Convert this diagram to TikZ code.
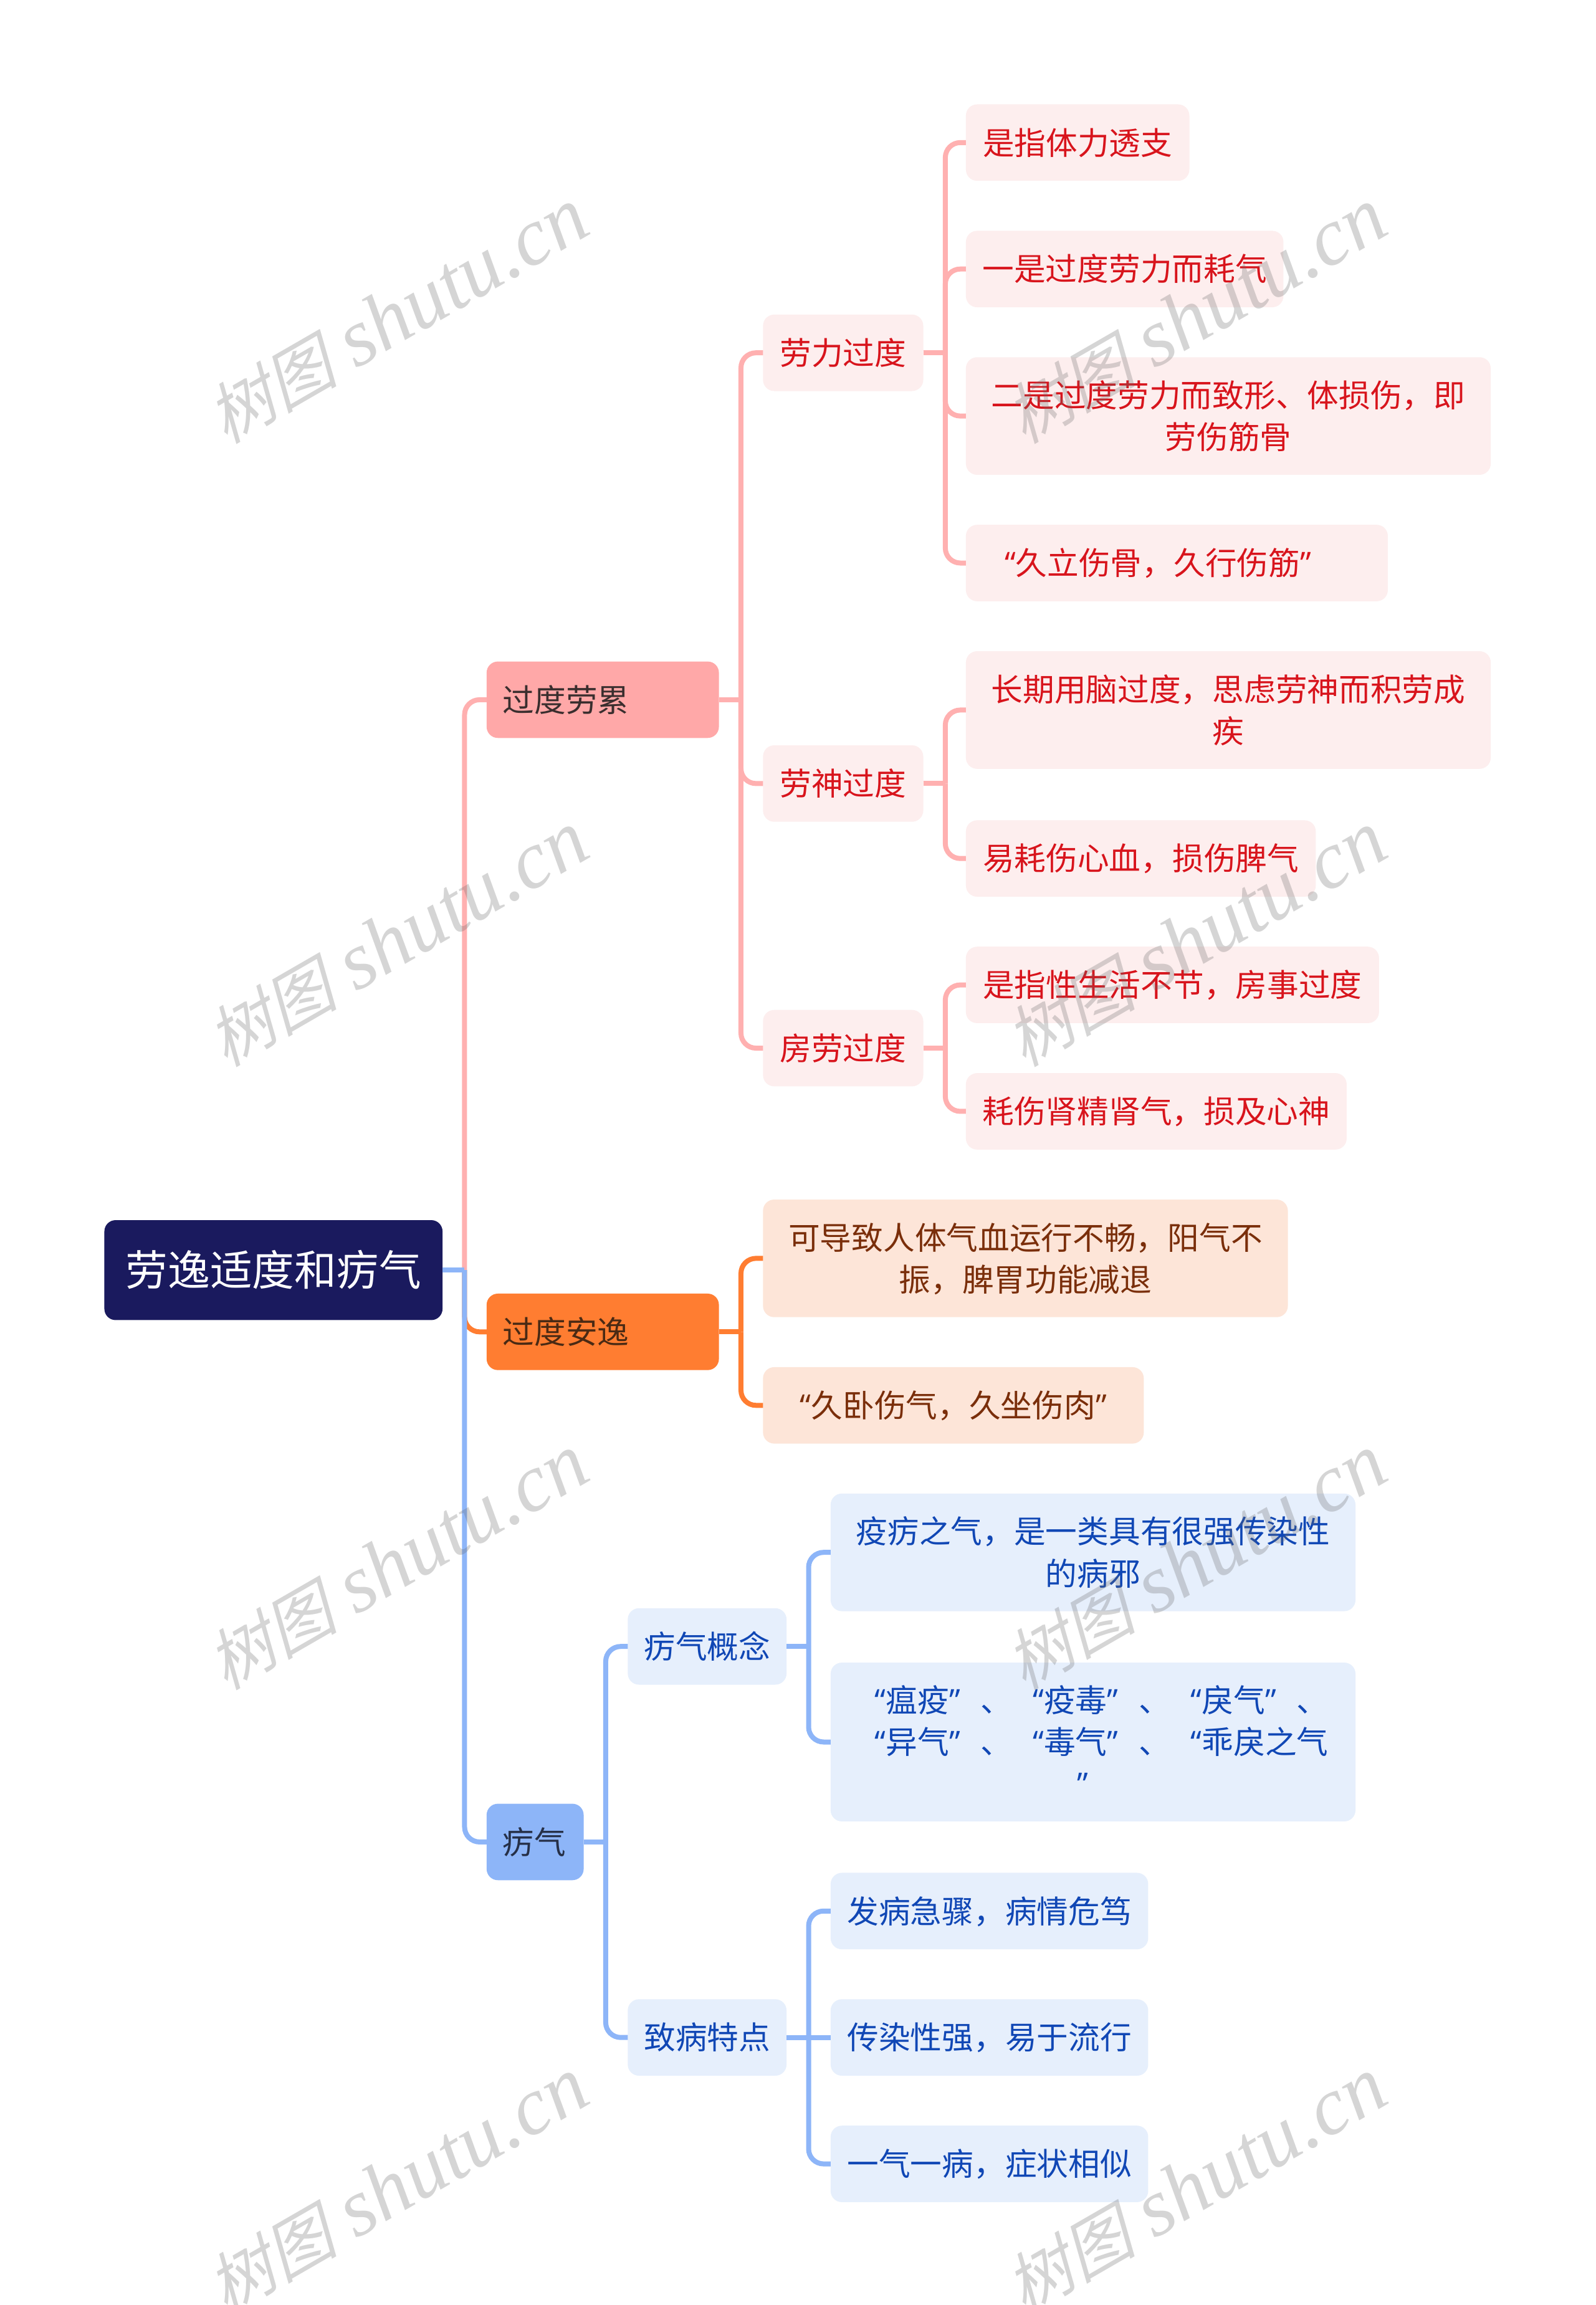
\documentclass[tikz,border=0pt]{standalone}
\usepackage{fontspec}
\setmainfont{Noto Sans CJK SC}
\newfontfamily\wmcjk[FakeSlant=0.25]{Noto Sans CJK SC}
\newfontfamily\wmlat{Liberation Serif}[ItalicFont=* Italic]
\newfontfamily\qf{Open Sans}
\newcommand\ql{{\qf “}}
\newcommand\qr{{\qf ”}}
\newcommand\lst{\leavevmode\vrule height 1.04em depth .28em width 0pt\relax}
\definecolor{rootc}{HTML}{1A1A5E}
\definecolor{pinkA}{HTML}{FFA8A8}
\definecolor{pinkB}{HTML}{FDEEEE}
\definecolor{pinkT}{HTML}{D8141C}
\definecolor{pinkL}{HTML}{FFB0B0}
\definecolor{pinkD}{HTML}{3A2E2E}
\definecolor{orA}{HTML}{FF7D31}
\definecolor{orB}{HTML}{FDE5D8}
\definecolor{orT}{HTML}{7A2E0A}
\definecolor{orD}{HTML}{4A2A14}
\definecolor{blA}{HTML}{8DB5F8}
\definecolor{blB}{HTML}{E6EFFC}
\definecolor{blT}{HTML}{1047B5}
\definecolor{blD}{HTML}{263048}
\tikzset{
  x=2.359pt,y=-2.359pt,
  bx/.style={rectangle,rounded corners=18pt,inner sep=0pt,outer sep=0pt,align=center,
    font=\fontsize{50.7}{67.2}\selectfont,execute at begin node=\lst,execute at end node=\lst},
  rootn/.style={bx,fill=rootc,text=white,font=\fontsize{67.7}{80}\selectfont},
  lone/.style={bx,align=left},
  pa/.style={lone,fill=pinkA,text=pinkD},
  oa/.style={lone,fill=orA,text=orD},
  ba/.style={lone,fill=blA,text=blD},
  pb/.style={bx,fill=pinkB,text=pinkT},
  ob/.style={bx,fill=orB,text=orT},
  bb/.style={bx,fill=blB,text=blT},
  link/.style={line width=8pt},
  wm/.style={rotate=30,text=black!60,opacity=.27,inner sep=0pt},
}
% name, x1, y1, x2, y2, style, text
\newcommand\bx[7]{\node[#6,minimum width={(#4-#2)*2.359pt},minimum height={(#5-#3)*2.359pt},text width={(#4-#2-22)*2.359pt}] (#1) at ({(#2+#4)/2},{(#3+#5)/2}) {#7};}
% colour, parent, child
\newcommand\cn[3]{\draw[link,#1] (#2.east) -- ++(15,0);
  \draw[link,#1,rounded corners=24pt] ([xshift=35.4pt]#2.east) |- (#3.west);}
\newcommand\cs[3]{\draw[link,#1] (#2.east) -- (#3.west);}
\newcommand\wmk[1]{\node[wm] at (#1) {{\wmcjk\fontsize{106}{120}\selectfont 树图}\hspace{30pt}{\wmlat\itshape\fontsize{131}{140}\selectfont shutu.cn}};}
\newcommand\itm[1]{\makebox[5em][l]{#1}}
\newcommand\rw[1]{\makebox[\linewidth][l]{\hspace{.89em}#1}}
\begin{document}
\begin{tikzpicture}
\useasboundingbox (0,0) rectangle (1085.2,1568);
\fill[white] (0,0) rectangle (1085.2,1568);
\bx{root}{71}{830}{301}{898}{rootn}{劳逸适度和疠气}
\bx{a}{331}{450}{489}{502}{pa}{过度劳累}
\bx{b}{331}{880}{489}{932}{oa}{过度安逸}
\bx{c}{331}{1227}{397}{1279}{ba}{疠气}
\bx{a1}{519}{214}{628}{266}{pb}{劳力过度}
\bx{a2}{519}{507}{628}{559}{pb}{劳神过度}
\bx{a3}{519}{687}{628}{739}{pb}{房劳过度}
\bx{a11}{657}{71}{809}{123}{pb}{是指体力透支}
\bx{a12}{657}{157}{873}{209}{pb}{一是过度劳力而耗气}
\bx{a13}{657}{243}{1014}{323}{pb}{二是过度劳力而致形、体损伤，即\\劳伤筋骨}
\bx{a14}{657}{357}{944}{409}{pb}{\ql 久立伤骨，久行伤筋\qr\hspace*{1.2em}}
\bx{a21}{657}{443}{1014}{523}{pb}{长期用脑过度，思虑劳神而积劳成\\疾}
\bx{a22}{657}{558}{895}{610}{pb}{易耗伤心血，损伤脾气}
\bx{a31}{657}{644}{938}{696}{pb}{是指性生活不节，房事过度}
\bx{a32}{657}{730}{916}{782}{pb}{耗伤肾精肾气，损及心神}
\bx{b1}{519}{816}{876}{896}{ob}{可导致人体气血运行不畅，阳气不\\振，脾胃功能减退}
\bx{b2}{519}{930}{778}{982}{ob}{\ql 久卧伤气，久坐伤肉\qr}
\bx{c1}{427}{1094}{535}{1146}{bb}{疠气概念}
\bx{c2}{427}{1360}{535}{1412}{bb}{致病特点}
\bx{c11}{565}{1016}{922}{1096}{bb}{疫疠之气，是一类具有很强传染性\\的病邪}
\bx{c12}{565}{1131}{922}{1239}{bb}{\rw{\itm{\ql 瘟疫\qr\hspace{.65em}、}\itm{\ql 疫毒\qr\hspace{.65em}、}\itm{\ql 戾气\qr\hspace{.65em}、}}\\\rw{\itm{\ql 异气\qr\hspace{.65em}、}\itm{\ql 毒气\qr\hspace{.65em}、}\itm{\ql 乖戾之气}}\\\qr\hspace*{.65em}}
\bx{c21}{565}{1274}{781}{1326}{bb}{发病急骤，病情危笃}
\bx{c22}{565}{1360}{781}{1412}{bb}{传染性强，易于流行}
\bx{c23}{565}{1446}{781}{1498}{bb}{一气一病，症状相似}
% connectors
\draw[link,orA,rounded corners=24pt] ([xshift=35.4pt]root.east) |- (b.west);
\draw[link,pinkL,rounded corners=24pt] ([xshift=35.4pt]root.east) |- (a.west);
\draw[link,blA,rounded corners=24pt] ([xshift=35.4pt]root.east) |- (c.west);
\draw[link,blA] (root.east) -- ++(15,0);
\cn{pinkL}{a}{a1}\cn{pinkL}{a}{a2}\cn{pinkL}{a}{a3}
\cn{pinkL}{a1}{a11}\cn{pinkL}{a1}{a12}\cn{pinkL}{a1}{a13}\cn{pinkL}{a1}{a14}
\cn{pinkL}{a2}{a21}\cn{pinkL}{a2}{a22}
\cn{pinkL}{a3}{a31}\cn{pinkL}{a3}{a32}
\cn{orA}{b}{b1}\cn{orA}{b}{b2}
\cn{blA}{c}{c1}\cn{blA}{c}{c2}
\cn{blA}{c1}{c11}\cn{blA}{c1}{c12}
\cn{blA}{c2}{c21}\cs{blA}{c2}{c22}\cn{blA}{c2}{c23}
% watermark
\wmk{270,215}\wmk{813,215}\wmk{270,639}\wmk{813,639}\wmk{270,1063}\wmk{813,1063}\wmk{270,1487}\wmk{813,1487}
\end{tikzpicture}
\end{document}
